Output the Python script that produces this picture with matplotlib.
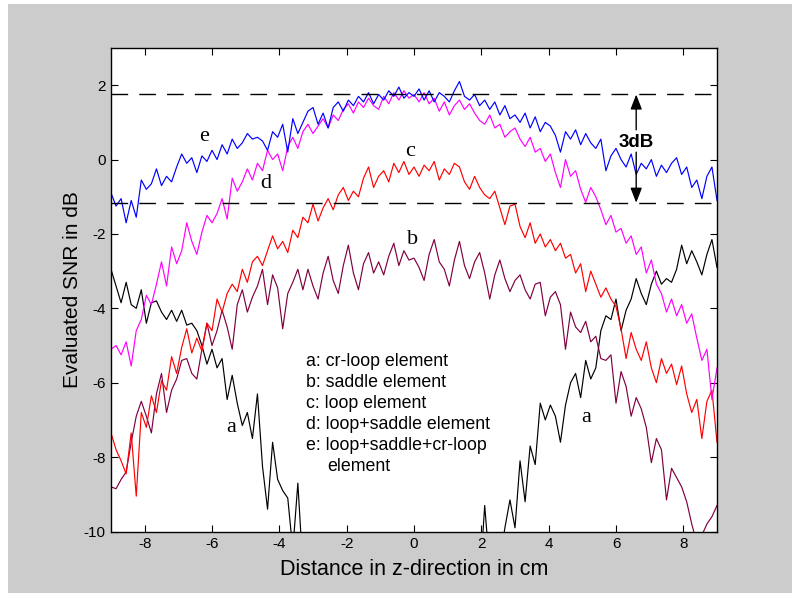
import numpy as np
import matplotlib
matplotlib.use("Agg")
import matplotlib.pyplot as plt
from matplotlib.patches import Rectangle

plt.rcParams["axes.unicode_minus"] = False

# ---------------- data ----------------
z = np.linspace(-9, 9, 121)  # distance in z-direction, cm

snr_e = [-0.90, -1.25, -1.05, -1.70, -1.10, -1.55, -0.55, -0.80, -0.65, -0.25,
         -0.70, -0.45, -0.60, -0.20, 0.15, -0.10, 0.05, -0.35, 0.10, -0.05,
         0.25, 0.00, 0.40, 0.15, 0.55, 0.30, 0.45, 0.70, 0.55, 0.60,
         0.50, 0.25, 0.75, 0.60, 0.95, 0.20, 1.10, 0.70, 1.00, 1.30,
         1.40, 0.95, 1.25, 0.85, 1.40, 1.55, 1.30, 1.60, 1.45, 1.70,
         1.55, 1.80, 1.50, 1.75, 1.60, 1.85, 1.70, 1.95, 1.65, 1.80,
         1.70,
         1.90, 1.60, 1.85, 1.55, 1.80, 1.70, 1.55, 1.85, 2.10, 1.70,
         1.60, 1.75, 1.45, 1.60, 1.35, 1.55, 1.20, 1.45, 1.10, 1.20,
         1.00, 1.25, 0.85, 1.15, 0.75, 1.00, 0.90, 0.65, 0.20, 0.75,
         0.55, 0.80, 0.40, 0.70, 0.45, 0.30, 0.55, -0.30, 0.10, 0.30,
         0.00, -0.20, 0.15, -0.40, -0.10, -0.25, 0.00, -0.45, -0.15, -0.35,
         -0.10, 0.05, -0.40, -0.20, -0.75, -0.55, -1.05, -0.45, -0.20, -1.10]

snr_d = [-5.10, -5.00, -5.25, -4.90, -5.55, -4.60, -4.30, -3.65, -3.90, -3.35,
         -2.75, -3.40, -2.35, -2.80, -2.45, -1.70, -2.20, -2.55, -1.95, -1.50,
         -1.70, -1.45, -1.05, -1.60, -0.50, -0.85, -0.60, -0.25, -0.55, -0.10,
         -0.30, 0.25, 0.00, 0.15, -0.30, 0.35, 0.60, 0.30, 0.75, 0.95,
         0.70, 0.90, 1.10, 0.85, 1.20, 1.05, 1.35, 1.50, 1.25, 1.55,
         1.40, 1.65, 1.45, 1.35, 1.70, 1.50, 1.80, 1.60, 1.85, 1.65,
         1.75,
         1.55, 1.80, 1.50, 1.65, 1.30, 1.55, 1.20, 1.45, 1.60, 1.35,
         1.50, 1.25, 1.05, 0.95, 1.20, 0.85, 0.95, 0.60, 0.75, 0.85,
         0.55, 0.35, 0.60, 0.20, 0.30, -0.05, 0.15, -0.35, -0.75, 0.00,
         -0.45, -0.30, -0.80, -1.15, -0.75, -1.00, -1.35, -1.75, -1.50, -1.95,
         -1.85, -2.25, -2.05, -2.55, -2.35, -3.05, -2.70, -3.35, -3.60, -4.10,
         -3.75, -4.20, -3.90, -4.40, -4.15, -4.80, -5.40, -5.10, -6.45, -5.60]

snr_c = [-7.35, -7.80, -8.10, -8.45, -7.35, -9.05, -6.80, -7.20, -6.35, -6.80,
         -5.95, -6.20, -5.30, -5.75, -5.05, -4.55, -5.20, -4.80, -5.15, -4.40,
         -4.60, -3.75, -4.10, -3.60, -3.35, -3.55, -2.95, -3.30, -2.75, -2.60,
         -2.85, -2.45, -2.05, -2.40, -2.20, -2.50, -1.90, -2.10, -1.55, -1.70,
         -1.20, -1.65, -1.30, -1.05, -1.35, -0.95, -0.75, -1.10, -0.85, -1.00,
         -0.50, -0.20, -0.75, -0.45, -0.30, -0.60, -0.10, -0.35, -0.05, -0.40,
         -0.20,
         -0.45, -0.15, -0.30, -0.05, -0.55, -0.25, -0.40, -0.10, -0.20, -0.60,
         -0.80, -0.45, -0.75, -0.95, -1.05, -0.85, -1.30, -1.75, -1.25, -1.20,
         -1.80, -2.10, -1.70, -2.25, -2.00, -2.35, -2.15, -2.45, -2.25, -2.65,
         -2.55, -3.05, -2.80, -3.55, -3.00, -3.35, -3.70, -3.45, -3.75, -3.95,
         -4.55, -5.35, -4.65, -5.10, -5.40, -4.90, -5.60, -6.00, -5.35, -5.75,
         -5.50, -6.05, -5.55, -6.30, -6.80, -6.45, -7.50, -6.50, -6.20, -7.60]

snr_b = [-8.80, -8.85, -8.60, -8.40, -7.60, -6.90, -6.50, -6.90, -7.35, -6.30,
         -5.75, -6.80, -6.20, -5.90, -5.40, -5.35, -5.75, -5.90, -5.10, -4.40,
         -5.00, -4.60, -4.05, -4.50, -5.10, -3.90, -3.50, -4.10, -3.70, -3.40,
         -2.95, -3.90, -3.10, -3.45, -4.55, -3.60, -3.30, -2.95, -3.50, -2.95,
         -3.40, -3.75, -3.05, -2.60, -3.25, -3.60, -2.85, -2.30, -3.05, -3.50,
         -2.80, -2.50, -3.05, -2.75, -3.10, -2.60, -2.25, -2.85, -2.45, -2.70,
         -2.65,
         -2.90, -3.25, -2.55, -2.15, -2.75, -2.95, -3.40, -2.70, -2.20, -2.85,
         -3.20, -2.75, -2.50, -3.05, -3.75, -3.10, -2.70, -3.20, -3.55, -3.25,
         -3.10, -3.50, -3.75, -3.35, -3.30, -4.20, -3.70, -3.55, -3.90, -5.10,
         -4.10, -4.50, -4.65, -4.35, -4.90, -4.75, -5.35, -5.40, -5.25, -6.55,
         -5.70, -6.10, -6.90, -6.40, -6.70, -7.20, -8.15, -7.50, -7.80, -9.15,
         -8.30, -8.55, -8.80, -9.20, -9.80, -10.30, -10.10, -9.80, -9.60, -9.30]

snr_a = [-2.95, -3.40, -3.85, -3.30, -3.90, -4.00, -3.50, -4.40, -3.85, -3.80,
         -4.10, -4.30, -4.05, -4.35, -4.05, -4.45, -4.40, -4.60, -5.00, -5.50,
         -5.10, -5.60, -5.35, -6.45, -5.80, -6.55, -7.15, -6.80, -7.50, -6.30,
         -8.25, -9.40, -7.60, -8.60, -8.90, -9.10, -10.50, -8.70, -11.00, -11.50,
         -11.80, -12.20, -11.90, -12.50, -12.10, -12.80, -12.40, -13.00, -12.60, -13.20,
         -12.90, -13.40, -13.10, -13.50, -13.20, -13.60, -13.30, -13.50, -13.10, -13.40,
         -13.20,
         -13.30, -12.90, -13.10, -12.70, -12.80, -12.40, -12.60, -12.10, -12.20, -11.80,
         -11.60, -11.20, -11.40, -9.30, -11.00, -11.50, -10.80, -9.90, -9.15, -9.90,
         -8.10, -9.20, -7.70, -8.20, -6.55, -7.00, -6.60, -6.90, -7.60, -6.60,
         -6.00, -5.75, -6.40, -5.40, -5.90, -5.60, -4.60, -4.20, -4.30, -3.75,
         -4.60, -4.05, -3.75, -3.20, -3.60, -3.90, -3.35, -3.00, -3.35, -3.20,
         -3.30, -2.95, -2.30, -2.80, -2.45, -2.75, -3.10, -2.55, -2.15, -2.90]

legend_lines = ["a: cr-loop element", "b: saddle element", "c: loop element",
                "d: loop+saddle element", "e: loop+saddle+cr-loop"]
legend_cont = "element"

x_ticks = [-8, -6, -4, -2, 0, 2, 4, 6, 8]
y_ticks = [-10, -8, -6, -4, -2, 0, 2]
level_top = 1.75
level_bottom = -1.16

# ---------------- figure ----------------
W, H, DPI = 797, 593, 100
fig = plt.figure(figsize=(W / DPI, H / DPI), dpi=DPI, facecolor="white")
fig.patches.append(Rectangle((8 / W, 0), (792 - 8) / W, 1 - 4 / H,
                             transform=fig.transFigure, facecolor="#cccccc",
                             edgecolor="none", zorder=-10))

ax = fig.add_axes([111 / W, (H - 531.5) / H, 606 / W, 483.5 / H])
ax.set_facecolor("white")

lw = 0.85
ax.plot(z, snr_a, color="black", lw=lw)
ax.plot(z, snr_b, color="#800040", lw=lw)
ax.plot(z, snr_c, color="#ff0000", lw=lw)
ax.plot(z, snr_d, color="#ff00ff", lw=lw)
ax.plot(z, snr_e, color="#0000ff", lw=lw)

for lvl in (level_top, level_bottom):
    ax.axhline(lvl, color="black", lw=1.0, dashes=(12, 8))

ax.set_xlim(-9, 9)
ax.set_ylim(-10, 3)
ax.set_xticks(x_ticks)
ax.set_yticks(y_ticks)
sans = "Liberation Sans"
ax.tick_params(direction="in", length=5, width=0.8, top=True, right=True,
               labelsize=11, pad=4)
for lab in ax.get_xticklabels() + ax.get_yticklabels():
    lab.set_family(sans)
for s in ax.spines.values():
    s.set_linewidth(1.0)

ax.set_xlabel("Distance in z-direction in cm", family=sans, fontsize=15.5, labelpad=6)
ax.set_ylabel("Evaluated SNR in dB", family=sans, fontsize=15, labelpad=1)

# 3 dB arrows
arrow_x = 6.6
ax.annotate("", xy=(arrow_x, level_top), xytext=(arrow_x, 0.8),
            arrowprops=dict(arrowstyle="-|>,head_length=0.9,head_width=0.35",
                            color="black", lw=1.0, shrinkA=0, shrinkB=0))
ax.annotate("", xy=(arrow_x, level_bottom), xytext=(arrow_x, 0.2),
            arrowprops=dict(arrowstyle="-|>,head_length=0.9,head_width=0.35",
                            color="black", lw=1.0, shrinkA=0, shrinkB=0))
ax.text(arrow_x, 0.47, "3dB", family=sans, fontsize=13.5, fontweight="bold",
        ha="center", va="center")

# curve letters
serif = "Liberation Serif"
for txt, xx, yy in [("e", -6.24, 0.63), ("d", -4.4, -0.63), ("c", -0.12, 0.22),
                    ("b", -0.03, -2.15), ("a", -5.44, -7.21), ("a", 5.1, -6.94)]:
    ax.text(xx, yy, txt, family=serif, fontsize=16, ha="center", va="center")

# legend text block
leg_y = [-5.42, -5.99, -6.56, -7.12, -7.69]
for txt, yy in zip(legend_lines, leg_y):
    ax.text(-3.22, yy, txt, family=sans, fontsize=12.8, ha="left", va="center")
ax.text(-2.58, -8.24, legend_cont, family=sans, fontsize=12.8, ha="left", va="center")

fig.savefig("out.png", dpi=DPI, facecolor=fig.get_facecolor())
